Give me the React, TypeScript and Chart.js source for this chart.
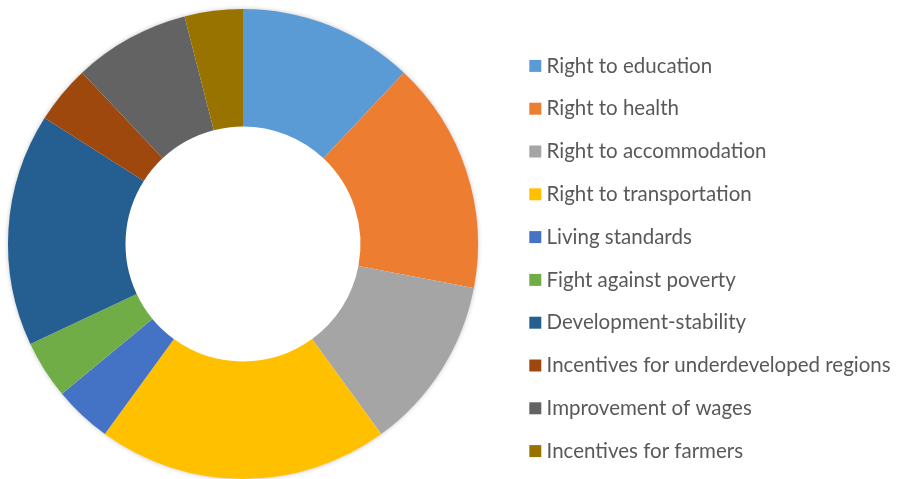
import React, { useEffect, useRef } from "react";
import { Chart, registerables } from "chart.js";

Chart.register(...registerables);

const categories = [
  "Right to education",
  "Right to health",
  "Right to accommodation",
  "Right to transportation",
  "Living standards",
  "Fight against poverty",
  "Development-stability",
  "Incentives for underdeveloped regions",
  "Improvement of wages",
  "Incentives for farmers",
];

const shares = [12, 16, 12, 20, 4, 4, 16, 4, 8, 4];

const colors = [
  "#5B9BD5",
  "#ED7D31",
  "#A5A5A5",
  "#FFC000",
  "#4472C4",
  "#70AD47",
  "#255E91",
  "#9E480E",
  "#636363",
  "#997300",
];

const TEXT_COLOR = "#595959";

const shadowPlugin = {
  id: "ringShadow",
  beforeDatasetsDraw(chart: any) {
    const arc = chart.getDatasetMeta(0).data[0] as any;
    if (!arc) return;
    const ctx = chart.ctx;
    ctx.save();
    ctx.shadowColor = "rgba(0,0,0,0.28)";
    ctx.shadowBlur = 5;
    ctx.shadowOffsetX = 0;
    ctx.shadowOffsetY = 0;
    ctx.fillStyle = "#ffffff";
    ctx.beginPath();
    ctx.arc(arc.x, arc.y, arc.outerRadius - 0.5, 0, Math.PI * 2);
    ctx.fill();
    ctx.restore();
  },
};

export default function App() {
  const ref = useRef<HTMLCanvasElement | null>(null);

  useEffect(() => {
    if (!ref.current) return;
    const chart = new Chart(ref.current, {
      type: "doughnut",
      data: {
        labels: categories,
        datasets: [
          {
            data: shares,
            backgroundColor: colors,
            borderWidth: 0,
            hoverOffset: 0,
          },
        ],
      },
      options: {
        responsive: false,
        animation: false,
        cutout: "50%",
        layout: { padding: { top: 9, left: 0, right: 0, bottom: 0 } },
        plugins: {
          tooltip: { enabled: false },
          title: {
            display: true,
            text: "",
            position: "bottom",
            padding: 0,
            font: { size: 29, lineHeight: 1 },
          },
          legend: {
            position: "right",
            align: "center",
            maxWidth: 381,
            labels: {
              boxWidth: 2,
              boxHeight: 2,
              padding: 22.3,
              color: TEXT_COLOR,
              font: { family: "Lato", size: 20.5 },
              generateLabels: () =>
                categories.map((t, i) => ({
                  text: t,
                  fillStyle: colors[i],
                  strokeStyle: colors[i],
                  lineWidth: 10,
                  lineJoin: "miter",
                  fontColor: TEXT_COLOR,
                  hidden: false,
                  index: i,
                })),
            },
          },
        },
      },
      plugins: [shadowPlugin],
    });
    return () => chart.destroy();
  }, []);

  return (
    <div
      style={{
        position: "fixed",
        left: 0,
        top: 0,
        width: 897,
        height: 479,
        overflow: "hidden",
        background: "#ffffff",
      }}
    >
      <canvas
        ref={ref}
        width={919}
        height={508}
        style={{ position: "absolute", left: -26, top: 0, display: "block" }}
      />
    </div>
  );
}
